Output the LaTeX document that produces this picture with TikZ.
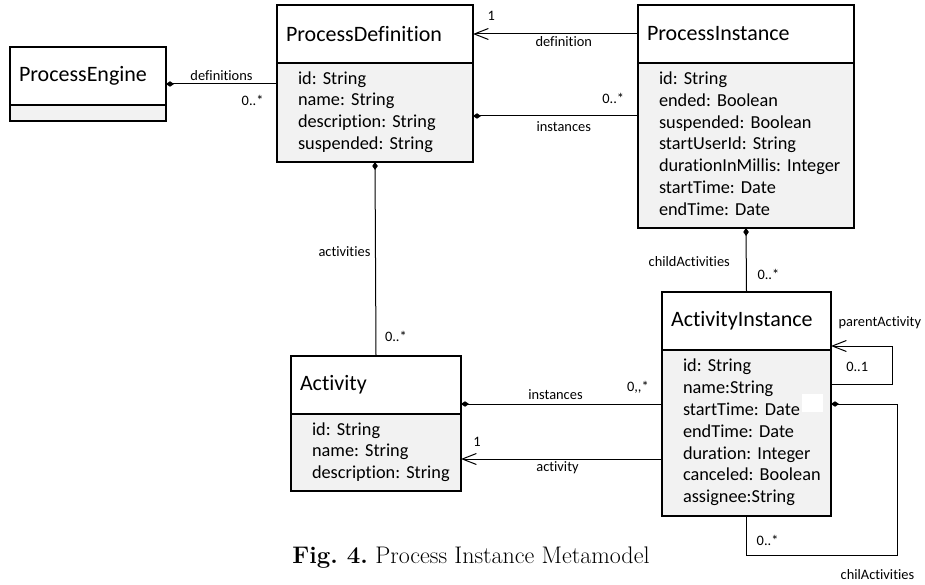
\documentclass[tikz,border=0pt]{standalone}
\usepackage{fontspec}
\usetikzlibrary{arrows.meta,positioning}

\newfontfamily\umlfont[Ligatures=NoCommon]{Carlito}
\newcommand{\umltitle}{\umlfont\fontsize{22}{26}\selectfont}
\newcommand{\umlattr}{\umlfont\fontsize{18.3}{21.8}\selectfont}
\newcommand{\umllabel}{\umlfont\fontsize{14.4}{17}\selectfont}
\newcommand{\attrlist}[1]{\begin{tabular}{@{}l@{}}#1\end{tabular}}
\definecolor{attrgray}{HTML}{F2F2F2}
\frenchspacing

\begin{document}
\begin{tikzpicture}[
        x=1pt, y=-1pt, % 像素坐标, y 向下
        classname/.style={
            draw, % 类名框
            line width=1.2pt,
            fill=white,
            font=\umltitle,
            align=left,
            inner xsep=9pt, inner ysep=0pt,
            outer sep=0pt,
            minimum height=58pt,
            anchor=north west
        },
        attrbox/.style={
            draw, % 属性框
            line width=1.2pt,
            fill=attrgray,
            font=\umlattr,
            align=left,
            inner xsep=21pt, inner ysep=0pt,
            outer sep=0pt
        },
        conn/.style={line width=1pt}, % 连线
        comp/.style={conn, {Diamond[length=8pt,width=5.5pt]}-}, % 组合
        nav/.style={conn, -{Straight Barb[length=14pt,width=11pt]}}, % 导航
        lbl/.style={font=\umllabel, inner sep=1pt} % 连线标签
    ]

    \useasboundingbox (0,0) rectangle (925,585);

    % 类
    \node[classname, text width=138pt] (pe) at (10,47) {ProcessEngine};
    \node[attrbox, text width=114pt, minimum height=16pt,
          below right=0pt and 0pt of pe.south west] (pe-a) {};

    \node[classname, text width=178pt] (pd) at (277,5) {ProcessDefinition};
    \node[attrbox, text width=154pt, minimum height=99pt,
          below right=0pt and 0pt of pd.south west] (pd-a)
        {\attrlist{id: String\\ name: String\\ description: String\\ suspended: String}};

    \node[classname, text width=198pt] (pi) at (638,5) {ProcessInstance};
    \node[attrbox, text width=174pt, minimum height=165pt,
          below right=0pt and 0pt of pi.south west] (pi-a)
        {\attrlist{id: String\\ ended: Boolean\\ suspended: Boolean\\ startUserId: String\\
                   durationInMillis: Integer\\ startTime: Date\\ endTime: Date}};

    \node[classname, text width=152pt] (act) at (291,356) {Activity};
    \node[attrbox, text width=128pt, minimum height=77pt,
          below right=0pt and 0pt of act.south west] (act-a)
        {\attrlist{id: String\\ name: String\\ description: String}};

    \node[classname, text width=151pt] (ai) at (662,292) {ActivityInstance};
    \node[attrbox, text width=127pt, minimum height=166pt,
          below right=0pt and 0pt of ai.south west] (ai-a)
        {\attrlist{id: String\\ name:String\\ startTime: Date\\ endTime: Date\\
                   duration: Integer\\ canceled: Boolean\\ assignee:String}};
    \fill[white] (802,394) rectangle (823,412);

    % 连线端点
    \coordinate (pe-r) at ([yshift=-8pt]pe.east);
    \coordinate (pd-r) at ([yshift=-3.5pt]pd-a.east);
    \coordinate (act-r) at ([yshift=-19pt]act.east);
    \coordinate (act-l) at ([yshift=-6.5pt]act-a.east);

    % 关联
    \draw[comp] (pe-r) -- (pe-r -| pd.west)
        node[lbl, pos=0.5, yshift=8pt] (l-defs) {definitions}
        node[lbl, pos=0.78, yshift=-16pt] (m-defs) {0..*};

    \draw[nav] (pi.west) -- (pd.east)
        node[lbl, pos=0.45, yshift=-8pt] (l-def) {definition}
        node[lbl, pos=0.89, yshift=18pt] (m-def) {1};

    \draw[comp] (pd-r) -- (pd-r -| pi-a.west)
        node[lbl, pos=0.55, yshift=-11pt] (l-pins) {instances}
        node[lbl, pos=0.85, yshift=18pt] (m-pins) {0..*};

    \draw[comp] (pd-a.south) -- (act.north)
        node[lbl, pos=0.46, xshift=-31pt] (l-acts) {activities}
        node[lbl, pos=0.9, xshift=20pt] (m-acts) {0..*};

    \draw[comp] (pi-a.south) -- (ai.north)
        node[lbl, pos=0.53, xshift=-57pt] (l-child) {childActivities}
        node[lbl, pos=0.72, xshift=22pt] (m-child) {0..*};

    \draw[comp] (act-r) -- (act-r -| ai-a.west)
        node[lbl, pos=0.47, yshift=9pt] (l-ains) {instances}
        node[lbl, pos=0.88, yshift=17pt] (m-ains) {0,,*};

    \draw[nav] (act-l -| ai-a.west) -- (act-l)
        node[lbl, pos=0.52, yshift=-9pt] (l-act) {activity}
        node[lbl, pos=0.92, yshift=17pt] (m-act) {1};

    % 自关联
    \draw[nav] ([yshift=49pt]ai-a.east) -- ++(61,0)
        node[lbl, pos=0.43, yshift=17pt] (m-parent) {0..1}
        |- ([yshift=-25pt]ai.east)
        node[lbl, pos=0.6, yshift=23pt] (l-parent) {parentActivity};

    \draw[comp] ([yshift=29pt]ai-a.east) -- ++(66,0) -- ++(0,151)
        -| (ai-a.south)
        node[lbl, pos=0.43, yshift=15pt] (m-chil) {0..*}
        node[lbl, pos=0.065, yshift=-20pt] (l-chil) {chilActivities};

    % 图题
    \node[font=\fontsize{24}{28}\selectfont] (cap) at (471,558)
        {\textbf{Fig. 4.} Process Instance Metamodel};
\end{tikzpicture}
\end{document}
